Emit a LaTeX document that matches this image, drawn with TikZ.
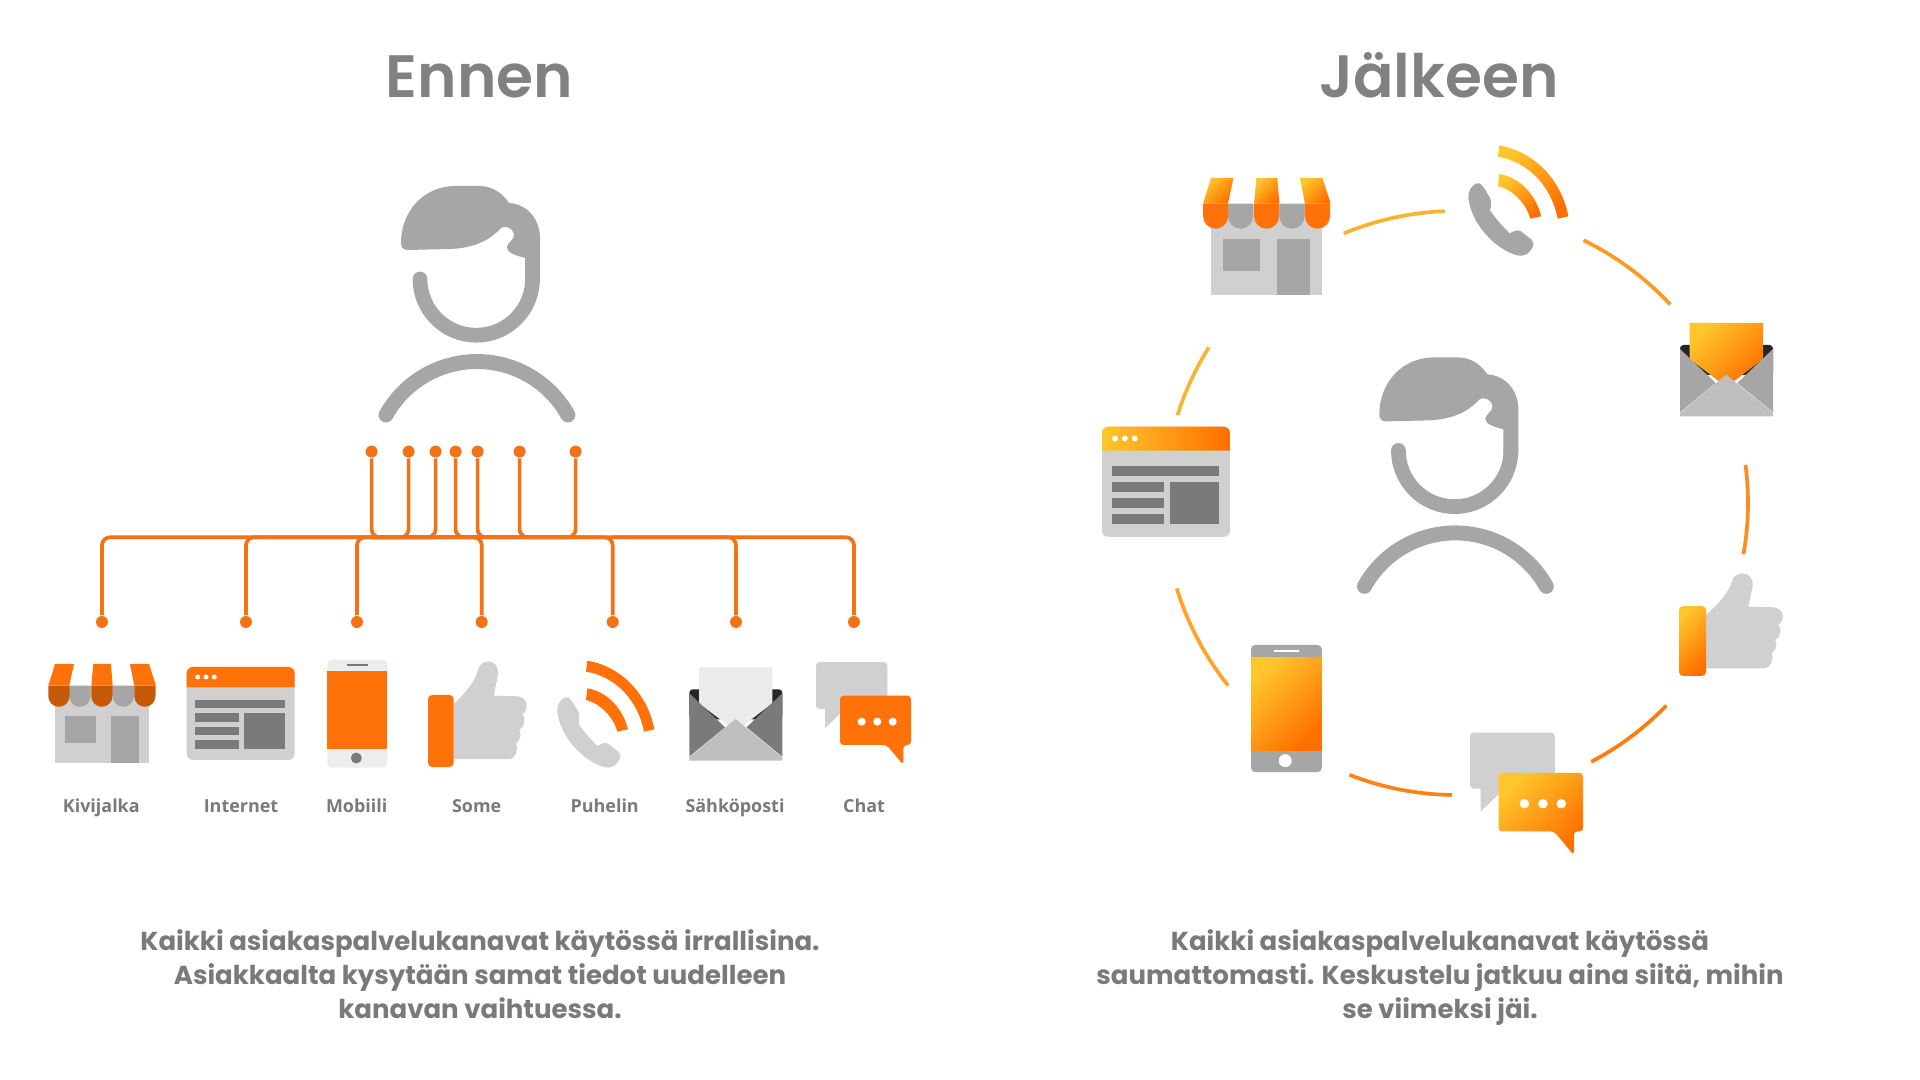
\documentclass[tikz,border=0pt]{standalone}
\usepackage{fontspec}
\newfontfamily\titlefont{Poppins}[UprightFont=* SemiBold]
\newfontfamily\capfont{Poppins}
\newfontfamily\labelfont{Open Sans}
\definecolor{wireorange}{HTML}{F47216}
\definecolor{flatorange}{HTML}{FF7209}
\definecolor{darkorange}{HTML}{C65A08}
\definecolor{gradtop}{HTML}{FFC62C}
\definecolor{gradend}{HTML}{FF6F00}
\definecolor{greyA}{HTML}{D0D0D0}
\definecolor{greyB}{HTML}{A6A6A6}
\definecolor{greyC}{HTML}{7A7A7A}
\tikzset{
    wire/.style={wireorange, line width=1.05pt, rounded corners=2.3pt},
    wiredot/.style={circle, fill=wireorange, inner sep=0pt, minimum size=3.4pt},
    ringarc/.style={line width=1.05pt},
    accent/.style={fill=flatorange},
    accentbar/.style={fill=flatorange},
    gradaccent/.style={
        accent/.style={top color=gradtop, bottom color=gradend, shading angle=45},
        accentbar/.style={left color=gradtop, right color=gradend}
    },
    headline/.style={text=greyC!95!white, anchor=base, font=\titlefont\fontsize{17}{20}\selectfont},
    caption/.style={text=greyC, align=center, anchor=north, font=\capfont\bfseries\fontsize{7.4}{9.76}\selectfont},
    iconlabel/.style={text=greyC, anchor=base, font=\labelfont\bfseries\fontsize{5.1}{6}\selectfont}
}
% Icons are drawn in pixels from their top left corner
\newcommand{\personicon}{
    \fill[greyB] (401,243) .. controls (401,210) and (425,186) .. (455,186) -- (480,186)
        .. controls (493,186) and (503,194) .. (509,203) .. controls (527,204) and (540,219) .. (540,238)
        -- (540,283) -- (525,283) -- (525,258) .. controls (519,256) and (507,254) .. (507,247)
        .. controls (507,243) and (515,240) .. (514,234) .. controls (513,228) and (505,225) .. (501,228)
        .. controls (490,240) and (475,248) .. (450,249) -- (408,250)
        .. controls (403,250) and (401,247) .. (401,243) -- cycle;
    \draw[greyB, line width=4.18pt, line cap=round] (420,279) arc[start angle=180, end angle=0, radius=56.25];
    \draw[greyB, line width=4.25pt, line cap=round] (386,415) arc[start angle=209.1, end angle=330.9, radius=104.1];
}
\newcommand{\storeicon}[1]{
    \fill[greyA] (0,21.7) rectangle (94,98.7);
    \fill[greyB] (10,51.7) rectangle (41,78.7);
    \fill[greyB] (56,51.7) rectangle (83.7,98.7);
    \foreach \x/\c in {14.3/greyB, 57.7/greyB, -6.7/#1, 36.3/#1, 79.3/#1}
        \fill[\c] (\x,21.7) -- (\x,32.2) arc[start angle=180, end angle=0, radius=10.6] -- ++(0,-10.5) -- cycle;
    \path[accent] (0,0) -- (19,0) -- (14.3,21.7) -- (-6.7,21.7) -- cycle;
    \path[accent] (38.3,0) -- (56,0) -- (57.7,21.7) -- (36.3,21.7) -- cycle;
    \path[accent] (75,0) -- (94,0) -- (101,21.7) -- (79.3,21.7) -- cycle;
}
\newcommand{\browsericon}{
    \fill[greyA, rounded corners=1.8pt] (0,0) rectangle (108,93);
    \path[accentbar] (0,20.3) [rounded corners=1.8pt] -- (0,0) -- (108,0) [sharp corners] -- (108,20.3) -- cycle;
    \foreach \x in {11,19.3,27.6}
        \fill[white] (\x,10) circle[radius=2.5];
    \fill[greyC] (8.3,33) rectangle (98.6,41.3);
    \foreach \y in {46.3,60,73.3}
        \fill[greyC] (8.3,\y) rectangle (52.3,\y+8.4);
    \fill[greyC] (57.3,46.3) rectangle (98.6,81.7);
}
\newcommand{\mobileicon}[2]{
    \fill[#1, rounded corners=1.2pt] (0,0) rectangle (60,107.7);
    \path[accent] (0,11) rectangle (60,89.3);
    \fill[#2] (19.4,4.3) rectangle (41,6.3);
    \fill[#2] (29,98) circle[radius=5.5];
}
\newcommand{\thumbicon}{
    \fill[greyA] (27,9) .. controls (36,1) and (46,-9) .. (51,-19.3) -- (52.7,-24)
        .. controls (55,-36) and (75,-36) .. (73.7,-20) -- (69.3,0.7) -- (94.3,1.3)
        .. controls (105,2) and (107,14) .. (99.3,19) .. controls (103,22) and (102,31) .. (96,34)
        .. controls (99,37) and (97,45) .. (92.7,47.3) .. controls (95,52) and (93,62.3) .. (84.3,62.3)
        -- (27,62.3) -- cycle;
    \path[accent, rounded corners=1.2pt] (0,0) rectangle (27,70);
}
\newcommand{\callicon}[1]{
    \begin{scope}[scale=0.3333]
        \fill[#1] (165,172) .. controls (178,170) and (182,178) .. (188,186) -- (205,215)
            .. controls (210,225) and (208,240) .. (205,250) .. controls (220,275) and (245,300) .. (262,318)
            .. controls (272,312) and (285,305) .. (295,312) -- (325,335)
            .. controls (335,345) and (332,358) .. (322,368) .. controls (315,380) and (300,385) .. (285,382)
            .. controls (220,365) and (150,290) .. (142,215) .. controls (140,195) and (150,180) .. (165,172) -- cycle;
        \path[accent] (232,62) .. controls (340,80) and (415,170) .. (433,268) -- (402,275)
            .. controls (385,185) and (320,110) .. (228,95) -- cycle;
        \path[accent] (232,145) .. controls (295,155) and (340,210) .. (354,268) -- (322,275)
            .. controls (310,230) and (270,190) .. (228,180) -- cycle;
    \end{scope}
}
\newcommand{\mailicon}[2]{
    \fill[black!85, rounded corners=1pt] (0,0) rectangle (93,30);
    \path[#1] (9.7,-22) -- (83,-22) -- (83,14) -- (46.5,42) -- (9.7,14) -- cycle;
    \fill[#2] (0,4) -- (35.7,38) -- (0,67.3) -- cycle;
    \fill[#2] (93,4) -- (57.3,38) -- (93,67.3) -- cycle;
    \fill[black!25] (0,68) -- (46.3,29.7) -- (93,68) -- (93,71.3) -- (0,71.3) -- cycle;
}
\newcommand{\chaticon}{
    \fill[greyA, rounded corners=1pt] (0,0) rectangle (71.3,47);
    \fill[greyA] (9,46) -- (9,66.3) -- (30,46) -- cycle;
    \path[accent, rounded corners=1pt] (24,33.7) -- (95,33.7) -- (95,83) -- (87.3,83) -- (87.3,103) -- (70.7,83) -- (24,83) -- cycle;
    \foreach \x in {45.7,61.3,76.7}
        \fill[white] (\x,59.7) circle[radius=4];
}
\begin{document}
\begin{tikzpicture}[x=0.01cm, y=-0.01cm]
    \useasboundingbox (0,0) rectangle (1920,1080);
    \fill[white] (0,0) rectangle (1920,1080);

    % Left side
    \node[headline] (ennen) at (479.4,98) {Ennen};
    \personicon
    \coordinate (bus) at (0,537.3);

    % Dots above and below the bus
    \foreach \n/\x in {t1/371.6, t2/408.6, t3/435.6, t4/455.6, t5/477.6, t6/519.6, t7/575.6}
        \node[wiredot] (\n) at (\x,451.6) {};
    \foreach \n/\x in {b1/102, b2/246, b3/357, b4/481.7, b5/612.7, b6/736, b7/854}
        \node[wiredot] (\n) at (\x,622) {};

    % Each wire turns into the bus towards its neighbour
    \draw[wire] (b1) -- (b1 |- bus) -- (b7 |- bus) -- (b7);
    \foreach \a/\b in {t1/t3, t2/t1, t3/t1, t4/t5, t5/t6, t6/t7, t7/t6, b2/b3, b3/b4, b4/b3, b5/b4, b6/b5}
        \draw[wire] (\a) -- (\a |- bus) -- (\b |- bus);

    \begin{scope}[shift={(55,664)}]
        \storeicon{darkorange}
    \end{scope}
    \begin{scope}[shift={(186.7,667)}]
        \browsericon
    \end{scope}
    \begin{scope}[shift={(327.3,660)}]
        \mobileicon{black!7}{greyC}
    \end{scope}
    \begin{scope}[shift={(428,695)}, xscale=0.95, yscale=1.03]
        \thumbicon
    \end{scope}
    \begin{scope}[shift={(510,640)}]
        \callicon{greyA}
    \end{scope}
    \begin{scope}[shift={(689.3,689.3)}]
        \mailicon{fill=black!8}{greyC}
    \end{scope}
    \begin{scope}[shift={(816,662)}]
        \chaticon
    \end{scope}

    \foreach \n/\x/\t in {lab1/101.3/Kivijalka, lab2/241/Internet, lab3/356.7/Mobiili, lab4/476.7/Some, lab5/604.7/Puhelin, lab6/735/Sähköposti, lab7/864/Chat}
        \node[iconlabel] (\n) at (\x,812.7) {\t};

    \node[caption] (captionleft) at (480,917) {Kaikki asiakaspalvelukanavat käytössä irrallisina.\\Asiakkaalta kysytään samat tiedot uudelleen\\kanavan vaihtuessa.};

    % Right side
    \node[headline] (jalkeen) at (1439,98) {Jälkeen};
    \begin{scope}[shift={(978.4,171.4)}]
        \personicon
    \end{scope}

    % Ring pieces between the icons
    \coordinate (ring) at (1456,503);
    \foreach \s/\e/\c in {247.4/267.8/FBB32C, 295.9/317.2/FC9A22, 352.5/370.1/FF8A1E, 62.4/43.9/FF7C10, 90.8/111.4/FF8212, 141.3/163/FFA426, 197.5/212.2/FBB535}{
        \definecolor{ringcolor}{HTML}{\c}
        \draw[ringarc, ringcolor] (ring) ++(\s:292) arc[start angle=\s, end angle=\e, radius=292];
    }

    \begin{scope}[gradaccent]
        \begin{scope}[shift={(1211,178)}, scale=1.185]
            \storeicon{flatorange}
        \end{scope}
        \begin{scope}[shift={(1102,426.7)}, scale=1.185]
            \browsericon
        \end{scope}
        \begin{scope}[shift={(1251,645)}, scale=1.18]
            \mobileicon{greyB}{white}
        \end{scope}
        \begin{scope}[shift={(1679,606)}]
            \thumbicon
        \end{scope}
        \begin{scope}[shift={(1419.7,124.3)}, scale=1.03]
            \callicon{greyB}
        \end{scope}
        \begin{scope}[shift={(1680,345)}]
            \mailicon{accent}{greyB}
        \end{scope}
        \begin{scope}[shift={(1470,732.7)}, scale=1.19]
            \chaticon
        \end{scope}
    \end{scope}

    \node[caption] (captionright) at (1440,917) {Kaikki asiakaspalvelukanavat käytössä\\saumattomasti. Keskustelu jatkuu aina siitä, mihin\\se viimeksi jäi.};
\end{tikzpicture}
\end{document}
